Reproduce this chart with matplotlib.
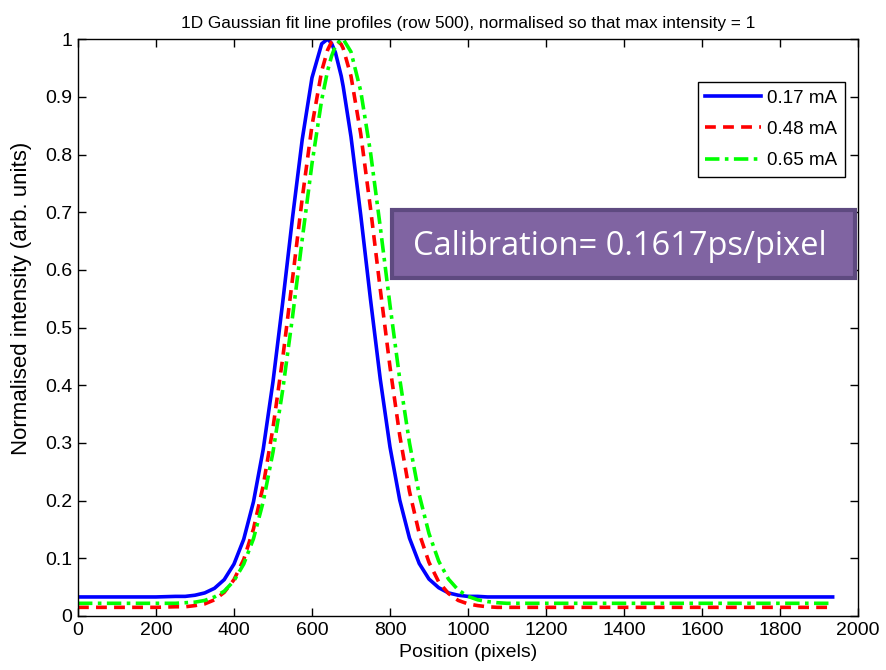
import numpy as np
import matplotlib
matplotlib.use("Agg")
import matplotlib.pyplot as plt
from matplotlib.patches import FancyBboxPatch

position = [0, 200, 250, 275, 300, 325, 350, 375, 400, 425, 450, 475, 500, 525, 550, 575,
            600, 625, 640, 650, 660, 675, 680, 700, 725, 750, 775, 800, 825, 850, 875, 900,
            925, 950, 975, 1000, 1025, 1050, 1075, 1100, 1935]

i_017 = [0.033, 0.033, 0.034, 0.034, 0.036, 0.040, 0.048, 0.063, 0.090, 0.133, 0.198, 0.289,
         0.406, 0.544, 0.690, 0.826, 0.933, 0.992, 1.000, 0.993, 0.977, 0.936, 0.918, 0.831,
         0.695, 0.549, 0.411, 0.293, 0.201, 0.135, 0.091, 0.064, 0.049, 0.040, 0.036, 0.034,
         0.034, 0.033, 0.033, 0.033, 0.033]

i_048 = [0.015, 0.015, 0.016, 0.016, 0.018, 0.021, 0.028, 0.041, 0.063, 0.098, 0.151, 0.226,
         0.326, 0.447, 0.584, 0.724, 0.850, 0.945, 0.981, 0.995, 1.000, 0.991, 0.984, 0.936,
         0.836, 0.707, 0.567, 0.432, 0.313, 0.216, 0.143, 0.093, 0.059, 0.039, 0.027, 0.021,
         0.018, 0.016, 0.015, 0.015, 0.015]

i_065 = [0.022, 0.022, 0.022, 0.023, 0.024, 0.027, 0.033, 0.043, 0.061, 0.090, 0.134, 0.198,
         0.284, 0.392, 0.518, 0.653, 0.784, 0.895, 0.945, 0.970, 0.988, 1.000, 1.000, 0.978,
         0.910, 0.804, 0.675, 0.539, 0.411, 0.300, 0.210, 0.143, 0.095, 0.064, 0.045, 0.034,
         0.028, 0.025, 0.023, 0.022, 0.022]

labels = ["0.17 mA", "0.48 mA", "0.65 mA"]

font = ["Liberation Sans", "DejaVu Sans"]

fig = plt.figure(figsize=(8.87, 6.70), dpi=100)
ax = fig.add_axes([0.0879, 0.0806, 0.8794, 0.861])

ax.plot(position, i_017, color=(0, 0, 1), lw=2.6, ls="-", label=labels[0])
ax.plot(position, i_048, color=(1, 0, 0), lw=2.6, ls=(0, (3, 2)), label=labels[1])
ax.plot(position, i_065, color=(0, 1, 0), lw=2.6, ls=(0, (4, 1.5, 1, 1.5)), label=labels[2])

ax.set_xlim(0, 2000)
ax.set_ylim(0, 1)
ax.set_xticks(np.arange(0, 2001, 200))
ax.set_yticks(np.arange(0, 1.01, 0.1))
ax.set_yticklabels(["0", "0.1", "0.2", "0.3", "0.4", "0.5", "0.6", "0.7", "0.8", "0.9", "1"])
ax.tick_params(direction="in", top=True, right=True, length=6, width=1, labelsize=14, pad=4)
for lab in ax.get_xticklabels() + ax.get_yticklabels():
    lab.set_family(font)
for s in ax.spines.values():
    s.set_linewidth(1)

ax.set_xlabel("Position (pixels)", fontsize=14, family=font, labelpad=4)
ax.set_ylabel("Normalised intensity (arb. units)", fontsize=16, family=font)
ax.yaxis.set_label_coords(-0.059, 0.55)
ax.set_title("1D Gaussian fit line profiles (row 500), normalised so that max intensity = 1",
             fontsize=12.4, family=font, pad=8)

leg = ax.legend(loc="upper right", bbox_to_anchor=(0.983, 0.9255), prop={"family": font, "size": 13.5},
                fancybox=False, framealpha=1, edgecolor="black", handlelength=3.0,
                handletextpad=0.3, borderpad=0.4, labelspacing=0.75, borderaxespad=0)
leg.get_frame().set_linewidth(1)

# calibration annotation box
box = FancyBboxPatch((0.442, 0.585), 0.522, 0.102, boxstyle="square,pad=0",
                     transform=fig.transFigure, facecolor="#8064A2", edgecolor="#5E4A80",
                     linewidth=3, zorder=5)
fig.patches.append(box)
fig.text(0.699, 0.619, "Calibration= 0.1617ps/pixel", color="white", fontsize=23.5,
         family=["Open Sans", "DejaVu Sans"], ha="center", va="baseline", zorder=6)

fig.savefig("out.png", dpi=100, facecolor="white")
